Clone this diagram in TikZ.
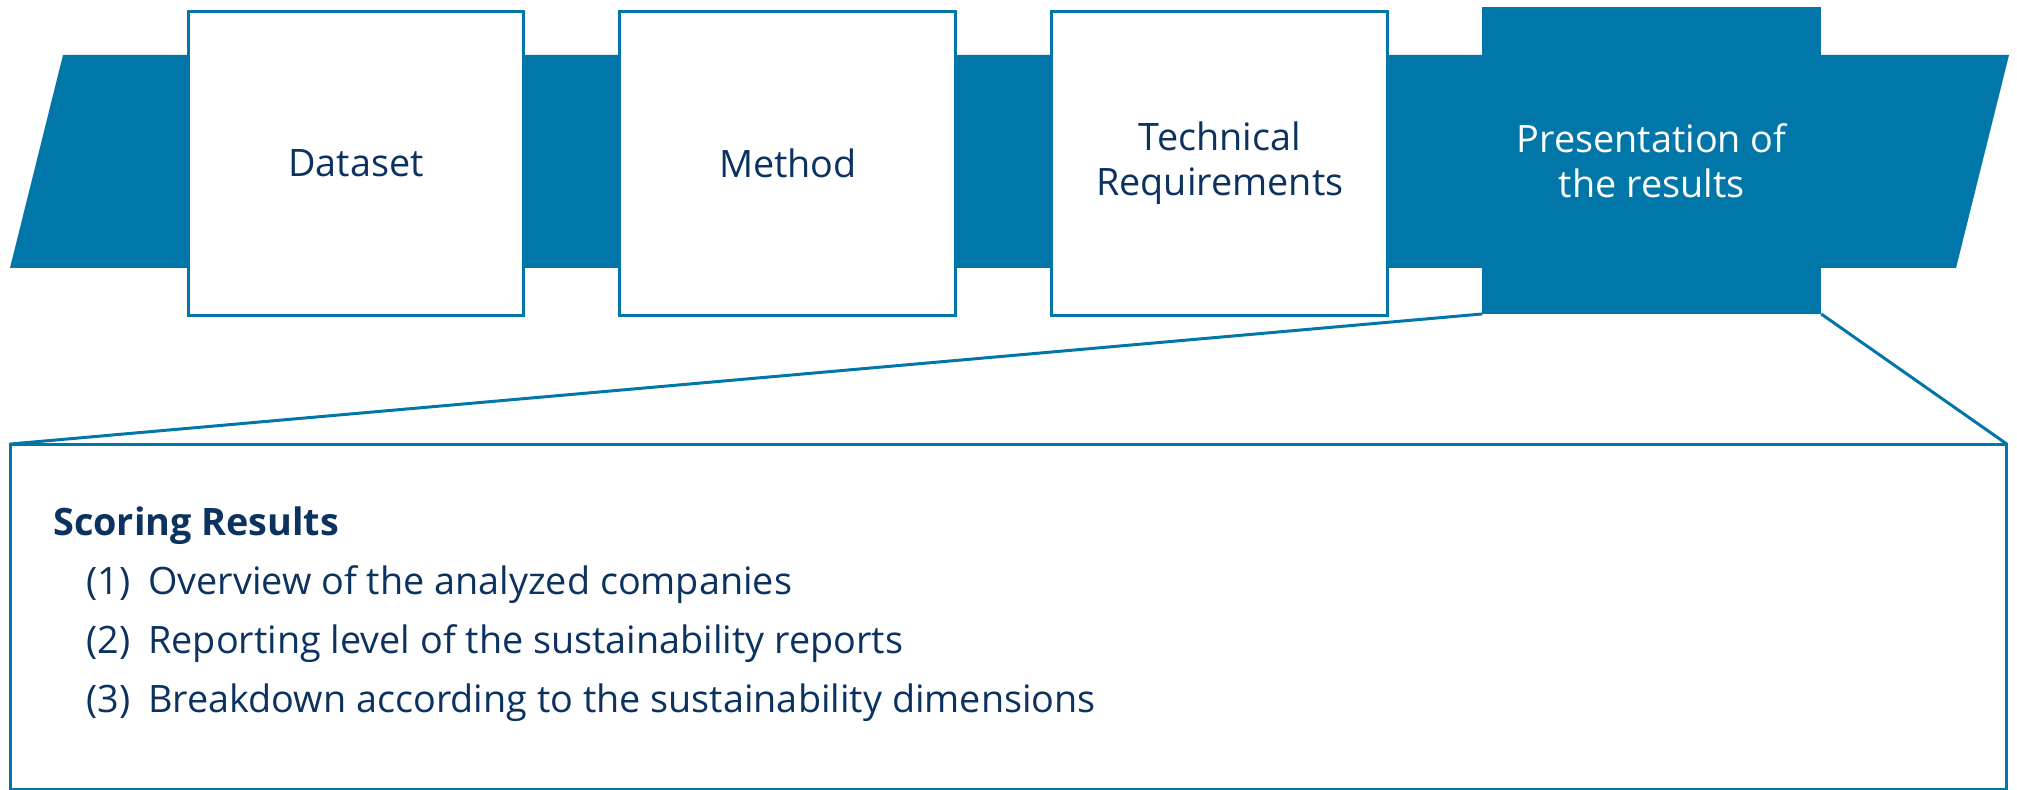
\documentclass[tikz,border=0pt]{standalone}
\usepackage{fontspec}
\setmainfont{Open Sans}
\usetikzlibrary{positioning}
\definecolor{bandblue}{RGB}{0,119,168}
\definecolor{navy}{RGB}{12,50,96}
\tikzset{
  stepbox/.style={draw=bandblue, line width=1.7pt, fill=white, minimum width=6.72cm, minimum height=6.08cm, align=center, text=navy, font=\fontsize{21.5}{25.6}\selectfont},
  listtext/.style={anchor=base west, inner sep=0pt, text=navy, font=\fontsize{21.5}{25.6}\selectfont},
  zoomline/.style={draw=bandblue, line width=1.7pt}
}
\begin{document}
\begin{tikzpicture}[x=0.02cm, y=-0.02cm]
  \useasboundingbox (0,0) rectangle (2017,790);
  % the band behind the steps
  \fill[bandblue] (63,55) -- (2009,55) -- (1956,268) -- (10,268) -- cycle;
  % steps
  \node[stepbox] (dataset) at (356,163.5) {Dataset};
  \node[stepbox, right=1.86cm of dataset] (method) {Method};
  \node[stepbox, right=1.86cm of method] (techreq) {Technical\\Requirements};
  \node[stepbox, right=1.86cm of techreq, yshift=0.06cm, fill=bandblue, text=white] (presentation) {Presentation of\\the results};
  % detail box
  \node[draw=bandblue, line width=1.7pt, outer sep=0pt, minimum width=39.94cm, minimum height=6.92cm] (results) at (1008.5,617) {};
  \draw[zoomline] (presentation.south west) -- (results.north west);
  \draw[zoomline] (presentation.south east) -- (results.north east);
  % list of the results
  \node[listtext, font=\fontsize{21.5}{25.6}\selectfont\bfseries] (heading) at (53,535) {Scoring Results};
  \node[listtext] (num1) at (86,594) {(1)};
  \node[listtext] (item1) at (148,594) {Overview of the analyzed companies};
  \node[listtext] (num2) at (86,653) {(2)};
  \node[listtext] (item2) at (148,653) {Reporting level of the sustainability reports};
  \node[listtext] (num3) at (86,712) {(3)};
  \node[listtext] (item3) at (148,712) {Breakdown according to the sustainability dimensions};
\end{tikzpicture}
\end{document}
